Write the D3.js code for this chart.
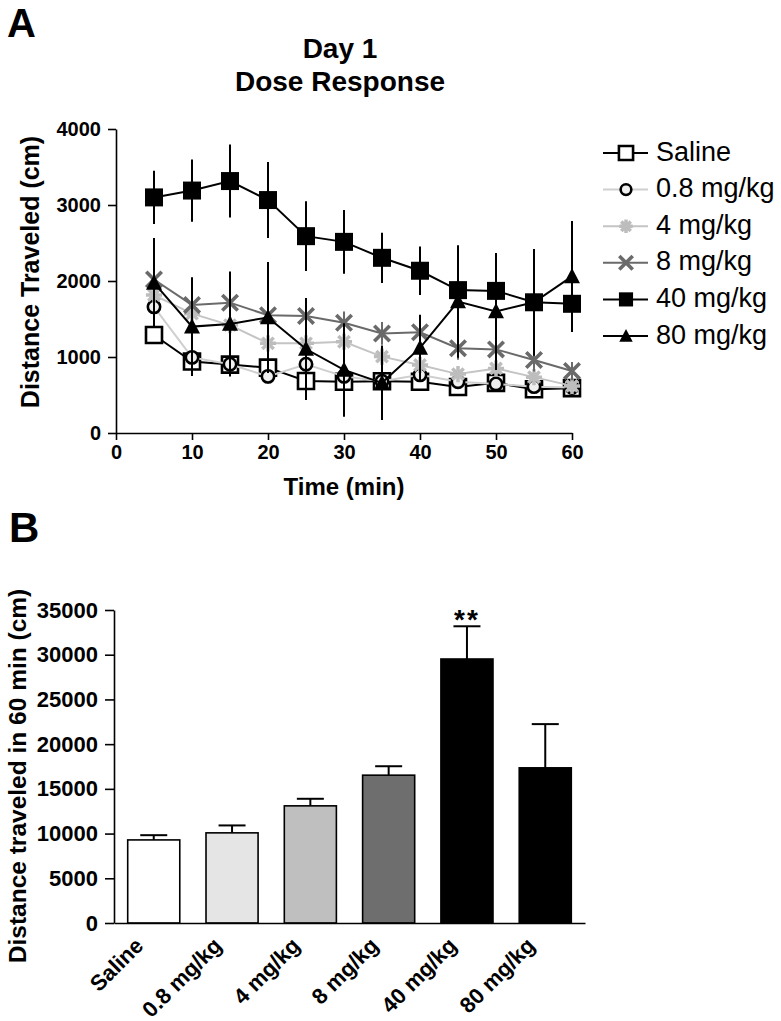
<!DOCTYPE html>
<html>
<head>
<meta charset="utf-8">
<script src="https://cdn.jsdelivr.net/npm/d3@7"></script>
<style>
  body { margin: 0; background: #fff; }
  svg { font-family: "Liberation Sans", Arial, sans-serif; }
  .axis path, .axis line { stroke: #000; stroke-width: 1.6; }
  .axis text { fill: #000; font-weight: bold; }
</style>
</head>
<body>
<div id="chart"></div>
<script>
// ---- data (panel A) ----
var times = [5, 10, 15, 20, 25, 30, 35, 40, 45, 50, 55, 60];
var doseNames = ["Saline", "0.8 mg/kg", "4 mg/kg", "8 mg/kg", "40 mg/kg", "80 mg/kg"];

var saline   = [1290, 940, 900, 860, 685, 675, 680, 675, 605, 660, 575, 590];
var saline_e = [120, 100, 90, 90, 80, 80, 70, 70, 60, 60, 60, 50];
var d08      = [1660, 995, 905, 745, 905, 745, 680, 765, 675, 645, 610, 600];
var d08_e    = [200, 120, 100, 100, 100, 90, 80, 80, 70, 70, 60, 60];
var d4       = [1815, 1570, 1420, 1180, 1180, 1200, 1005, 895, 775, 850, 735, 620];
var d4_e     = [250, 200, 180, 150, 150, 150, 130, 120, 100, 100, 100, 80];
var d8       = [2020, 1685, 1715, 1550, 1540, 1450, 1310, 1325, 1115, 1100, 960, 815];
var d8_e     = [250, 200, 180, 200, 180, 150, 150, 150, 150, 150, 150, 120];
var d40      = [3100, 3190, 3315, 3065, 2590, 2515, 2305, 2135, 1880, 1870, 1720, 1700];
var d40_e    = [350, 410, 480, 500, 460, 420, 330, 320, 510, 400, 700, 350];
var d80      = [1975, 1400, 1435, 1520, 1105, 830, 660, 1120, 1730, 1600, 1720, 2060];
var d80_e    = [590, 650, 690, 730, 670, 615, 490, 435, 740, 770, 700, 730];

var xTicksA = [0, 10, 20, 30, 40, 50, 60];
var yTicksA = [0, 1000, 2000, 3000, 4000];

// ---- data (panel B) ----
var totals   = [9290, 10080, 13100, 16530, 29520, 17350];
var totals_e = [530, 830, 790, 1000, 3660, 4890];
var yTicksB  = [0, 5000, 10000, 15000, 20000, 25000, 30000, 35000];

// marker shapes
var sq = { draw: function(c, s) { var r = Math.sqrt(s) / 2; c.rect(-r, -r, 2 * r, 2 * r); } };
var tri = { draw: function(c, s) { var r = Math.sqrt(s) / 2; c.moveTo(0, -r * 1.05); c.lineTo(r, r * 0.85); c.lineTo(-r, r * 0.85); c.closePath(); } };
var xs = { draw: function(c, s) { var r = Math.sqrt(s) / 2; c.moveTo(-r, -r); c.lineTo(r, r); c.moveTo(r, -r); c.lineTo(-r, r); } };
var ast = { draw: function(c, s) {
  var r = Math.sqrt(s) / 2;
  for (var i = 0; i < 4; i++) {
    var a = i * Math.PI / 4;
    c.moveTo(-r * Math.cos(a), -r * Math.sin(a));
    c.lineTo(r * Math.cos(a), r * Math.sin(a));
  }
} };

var series = [
  { name: doseNames[0], v: saline, e: saline_e, line: "#000", ec: "#000", shape: sq, size: 256, fill: "#fff", stroke: "#000", sw: 2.6 },
  { name: doseNames[1], v: d08, e: d08_e, line: "#cfcfcf", ec: "#aaa", shape: d3.symbolCircle, size: 120, fill: "#f0f0f0", stroke: "#000", sw: 2.6 },
  { name: doseNames[2], v: d4, e: d4_e, line: "#c4c4c4", ec: "#bbb", shape: ast, size: 260, fill: "none", stroke: "#bdbdbd", sw: 3.5 },
  { name: doseNames[3], v: d8, e: d8_e, line: "#6a6a6a", ec: "#6a6a6a", shape: xs, size: 240, fill: "none", stroke: "#6a6a6a", sw: 3.6 },
  { name: doseNames[5], v: d80, e: d80_e, line: "#000", ec: "#000", shape: tri, size: 256, fill: "#000", stroke: "#000", sw: 0 },
  { name: doseNames[4], v: d40, e: d40_e, line: "#000", ec: "#000", shape: sq, size: 324, fill: "#000", stroke: "#000", sw: 0 }
];
var legendOrder = [0, 1, 2, 3, 5, 4];

var svg = d3.select("#chart").append("svg")
    .attr("width", 781)
    .attr("height", 1021);

// ================= Panel A =================
var xA = d3.scaleLinear().domain([0, 60]).range([116, 572]);
var yA = d3.scaleLinear().domain([0, 4000]).range([433, 129]);

svg.append("text").attr("x", 7).attr("y", 37)
    .style("font-size", "40px").style("font-weight", "bold").text("A");

svg.append("text").attr("x", 340).attr("y", 58).attr("text-anchor", "middle")
    .style("font-size", "28px").style("font-weight", "bold").text("Day 1");
svg.append("text").attr("x", 340).attr("y", 91).attr("text-anchor", "middle")
    .style("font-size", "28px").style("font-weight", "bold").text("Dose Response");

svg.append("g")
    .attr("class", "axis")
    .attr("transform", "translate(0," + yA(0) + ")")
    .call(d3.axisBottom(xA).tickValues(xTicksA).tickFormat(d3.format("d")).tickSize(7).tickSizeOuter(0).tickPadding(5))
    .selectAll("text").style("font-size", "20px");

svg.append("g")
    .attr("class", "axis")
    .attr("transform", "translate(" + xA(0) + ",0)")
    .call(d3.axisLeft(yA).tickValues(yTicksA).tickFormat(d3.format("d")).tickSize(8).tickSizeOuter(0).tickPadding(7))
    .selectAll("text").style("font-size", "20px");

svg.append("text").attr("x", 344).attr("y", 495).attr("text-anchor", "middle")
    .style("font-size", "24px").style("font-weight", "bold").text("Time (min)");

svg.append("text")
    .attr("transform", "translate(39," + 272 + ") rotate(-90)")
    .attr("text-anchor", "middle")
    .style("font-size", "25px").style("font-weight", "bold")
    .text("Distance Traveled (cm)");

var line = d3.line()
    .x(function(d, i) { return xA(times[i]); })
    .y(function(d) { return yA(d); });

series.forEach(function(s) {
  var g = svg.append("g");
  // error bars
  g.selectAll("line.err").data(s.v).enter().append("line")
      .attr("x1", function(d, i) { return xA(times[i]); })
      .attr("x2", function(d, i) { return xA(times[i]); })
      .attr("y1", function(d, i) { return yA(d - s.e[i]); })
      .attr("y2", function(d, i) { return yA(d + s.e[i]); })
      .attr("stroke", s.ec).attr("stroke-width", 2);
  g.append("path")
      .datum(s.v)
      .attr("fill", "none")
      .attr("stroke", s.line)
      .attr("stroke-width", 2)
      .attr("d", line);
  g.selectAll("path.pt").data(s.v).enter().append("path")
      .attr("transform", function(d, i) { return "translate(" + xA(times[i]) + "," + yA(d) + ")"; })
      .attr("d", d3.symbol().type(s.shape).size(s.size))
      .attr("fill", s.fill)
      .attr("stroke", s.stroke)
      .attr("stroke-width", s.sw);
});

// legend
var leg = svg.append("g");
legendOrder.forEach(function(k, i) {
  var s = series[k];
  var y = 153 + i * 36.6;
  leg.append("line").attr("x1", 603).attr("x2", 648).attr("y1", y).attr("y2", y)
      .attr("stroke", s.line).attr("stroke-width", 2);
  var sz = s.shape === sq ? 200 : (s.shape === d3.symbolCircle ? 90 : 180);
  leg.append("path")
      .attr("transform", "translate(626," + y + ")")
      .attr("d", d3.symbol().type(s.shape).size(sz))
      .attr("fill", s.fill).attr("stroke", s.stroke).attr("stroke-width", s.sw);
  leg.append("text").attr("x", 656).attr("y", y + 7.5)
      .style("font-size", "27px").text(s.name);
});

// ================= Panel B =================
var xB = d3.scaleBand().domain(doseNames).range([114, 585]).paddingInner(0.335).paddingOuter(0.175);
var yB = d3.scaleLinear().domain([0, 35000]).range([923, 610]);
var barFill = ["#fff", "#e5e5e5", "#bfbfbf", "#6e6e6e", "#000", "#000"];

svg.append("text").attr("x", 9).attr("y", 542)
    .style("font-size", "42px").style("font-weight", "bold").text("B");

svg.append("text")
    .attr("transform", "translate(26," + 776 + ") rotate(-90)")
    .attr("text-anchor", "middle")
    .style("font-size", "24.5px").style("font-weight", "bold")
    .text("Distance traveled in 60 min (cm)");

// error bars (upper only)
var eb = svg.append("g");
doseNames.forEach(function(n, i) {
  var cx = xB(n) + xB.bandwidth() / 2;
  eb.append("line").attr("x1", cx).attr("x2", cx)
      .attr("y1", yB(totals[i])).attr("y2", yB(totals[i] + totals_e[i]))
      .attr("stroke", "#000").attr("stroke-width", 2);
  eb.append("line").attr("x1", cx - 13.5).attr("x2", cx + 13.5)
      .attr("y1", yB(totals[i] + totals_e[i])).attr("y2", yB(totals[i] + totals_e[i]))
      .attr("stroke", "#000").attr("stroke-width", 2);
});

svg.append("g").selectAll("rect").data(totals).enter().append("rect")
    .attr("x", function(d, i) { return xB(doseNames[i]); })
    .attr("y", function(d) { return yB(d); })
    .attr("width", xB.bandwidth())
    .attr("height", function(d) { return yB(0) - yB(d); })
    .attr("fill", function(d, i) { return barFill[i]; })
    .attr("stroke", "#000").attr("stroke-width", 1.6);

svg.append("g")
    .attr("class", "axis")
    .attr("transform", "translate(" + xB.range()[0] + ",0)")
    .call(d3.axisLeft(yB).tickValues(yTicksB).tickFormat(d3.format("d")).tickSize(9).tickSizeOuter(0).tickPadding(7))
    .selectAll("text").style("font-size", "22px");

var xAxB = svg.append("g")
    .attr("class", "axis")
    .attr("transform", "translate(0," + yB(0) + ")")
    .call(d3.axisBottom(xB).tickSize(0).tickSizeOuter(0).tickPadding(0));
xAxB.selectAll("text")
    .style("font-size", "22px")
    .attr("text-anchor", "end")
    .attr("dy", null)
    .attr("y", 0)
    .attr("transform", "translate(-9,24) rotate(-45)");

// significance mark
svg.append("text")
    .attr("x", xB(doseNames[4]) + xB.bandwidth() / 2)
    .attr("y", 629)
    .attr("text-anchor", "middle")
    .style("font-size", "28px").style("font-weight", "bold")
    .style("letter-spacing", "2px")
    .text("**");
</script>
</body>
</html>
